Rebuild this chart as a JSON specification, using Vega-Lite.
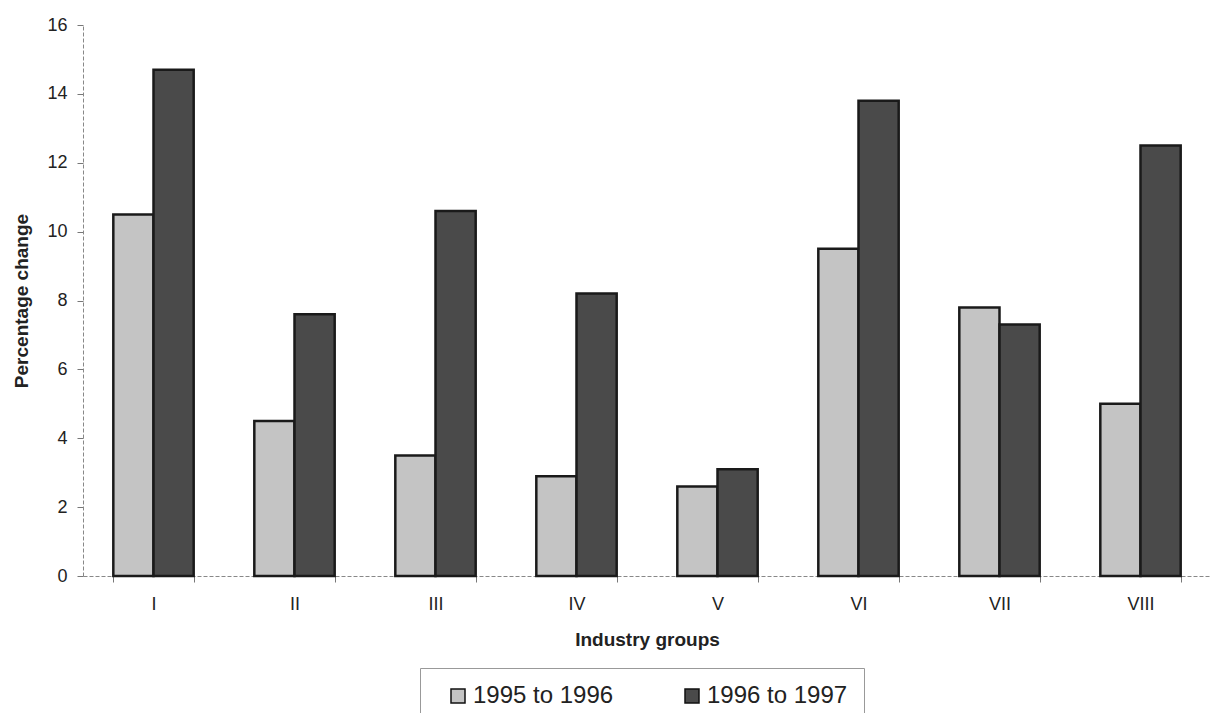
{
  "$schema": "https://vega.github.io/schema/vega-lite/v6.json",
  "autosize": "none",
  "padding": {"left": 83, "top": 25, "right": 0, "bottom": 137},
  "width": 1128,
  "height": 551,
  "background": "white",
  "config": {"view": {"stroke": null}, "font": "Liberation Sans"},
  "data": {"values": [
    {"group": "I", "period": "1995 to 1996", "value": 10.5},
    {"group": "I", "period": "1996 to 1997", "value": 14.7},
    {"group": "II", "period": "1995 to 1996", "value": 4.5},
    {"group": "II", "period": "1996 to 1997", "value": 7.6},
    {"group": "III", "period": "1995 to 1996", "value": 3.5},
    {"group": "III", "period": "1996 to 1997", "value": 10.6},
    {"group": "IV", "period": "1995 to 1996", "value": 2.9},
    {"group": "IV", "period": "1996 to 1997", "value": 8.2},
    {"group": "V", "period": "1995 to 1996", "value": 2.6},
    {"group": "V", "period": "1996 to 1997", "value": 3.1},
    {"group": "VI", "period": "1995 to 1996", "value": 9.5},
    {"group": "VI", "period": "1996 to 1997", "value": 13.8},
    {"group": "VII", "period": "1995 to 1996", "value": 7.8},
    {"group": "VII", "period": "1996 to 1997", "value": 7.3},
    {"group": "VIII", "period": "1995 to 1996", "value": 5.0},
    {"group": "VIII", "period": "1996 to 1997", "value": 12.5}
  ]},
  "mark": {"type": "bar", "stroke": "#1a1a1a", "strokeWidth": 2.5},
  "encoding": {
    "x": {
      "field": "group", "type": "nominal", "sort": null,
      "scale": {"paddingInner": 0.43, "paddingOuter": 0.215},
      "axis": {
        "title": "Industry groups", "titleFontSize": 19, "titleFontWeight": "bold", "titleColor": "#222", "titlePadding": 17,
        "labelAngle": 0, "labelFontSize": 18, "labelColor": "#222", "labelPadding": 13,
        "domainColor": "#888", "domainDash": [4, 2], "domainWidth": 1,
        "ticks": true, "tickBand": "extent", "tickColor": "#777", "tickSize": 6, "tickOffset": 0
      }
    },
    "xOffset": {"field": "period", "type": "nominal", "scale": {"paddingInner": 0, "paddingOuter": 0}},
    "y": {
      "field": "value", "type": "quantitative",
      "scale": {"domain": [0, 16]},
      "axis": {
        "title": "Percentage change", "titleFontSize": 19, "titleFontWeight": "bold", "titleColor": "#222", "titlePadding": 15,
        "values": [0, 2, 4, 6, 8, 10, 12, 14, 16],
        "labelFontSize": 18, "labelColor": "#222", "labelPadding": 10,
        "grid": false, "domainColor": "#888", "domainDash": [4, 2], "domainWidth": 1,
        "tickColor": "#777", "tickSize": 6
      }
    },
    "color": {
      "field": "period", "type": "nominal",
      "scale": {"domain": ["1995 to 1996", "1996 to 1997"], "range": ["#c4c4c4", "#4a4a4a"]},
      "legend": {
        "title": null, "orient": "none", "legendX": 337, "legendY": 643,
        "direction": "horizontal", "columns": 2, "columnPadding": 56,
        "labelFontSize": 24, "labelColor": "#222", "labelLimit": 300, "labelOffset": 3,
        "symbolType": "square", "symbolSize": 196, "symbolStrokeColor": "#111", "symbolStrokeWidth": 1.5,
        "symbolOffset": 10,
        "strokeColor": "#999", "padding": 16, "fillColor": "white"
      }
    }
  }
}
